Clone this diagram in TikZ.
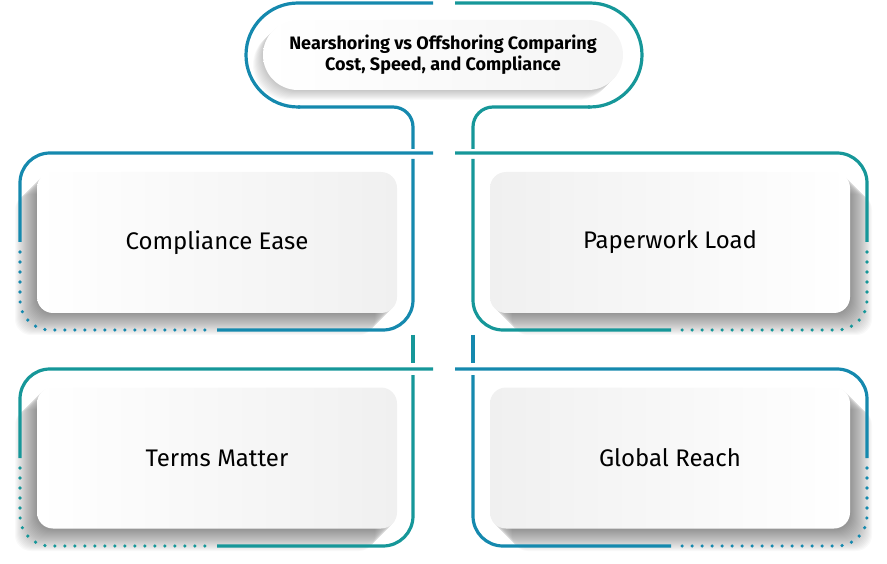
\documentclass[tikz,border=0pt]{standalone}
\usepackage{fontspec}
\setmainfont{Fira Sans}
\usetikzlibrary{positioning}
\definecolor{frameblue}{RGB}{21,137,174}
\definecolor{frameteal}{RGB}{22,151,153}
\definecolor{cardgray}{RGB}{240,240,240}
\tikzset{
    frame line/.style={line width=3.2pt, color=#1},
    frame dots/.style={line width=3.6pt, color=#1, line cap=round, dash pattern=on 0pt off 10pt},
    card/.style={rectangle, rounded corners=16pt, minimum width=360pt, minimum height=141pt,
        inner sep=0pt, text=black, font=\fontsize{24}{29}\selectfont},
    card left/.style={card, left color=white, right color=cardgray},
    card right/.style={card, left color=cardgray, right color=white},
    title pill/.style={card, minimum height=70pt, rounded corners=35pt, align=center,
        left color=white, right color=cardgray!70, font=\fontsize{18}{21}\selectfont\bfseries},
    long shadow/.style={fill=black, opacity=.024},
}

\begin{document}
\begin{tikzpicture}[x=1pt, y=-1pt]
    \useasboundingbox (0,0) rectangle (887,564);

    % shadows
    \foreach \k in {1,...,10}
        \fill[long shadow, rounded corners=35pt] (263-\k,20+\k) rectangle (623-\k,90+\k);
    \foreach \k in {1,...,22} {
        \fill[long shadow, rounded corners=16pt] (37-\k,172+\k) rectangle (397-\k,313+\k);
        \fill[long shadow, rounded corners=16pt] (490+\k,172+\k) rectangle (850+\k,313+\k);
        \fill[long shadow, rounded corners=16pt] (37-\k,387+\k) rectangle (397-\k,529+\k);
        \fill[long shadow, rounded corners=16pt] (490+\k,387+\k) rectangle (850+\k,529+\k);
    }

    % title outline
    \draw[frame line=frameblue, rounded corners=52pt] (433,3) -- (246,3) -- (246,107) -- (300,107);
    \draw[frame line=frameblue, rounded corners=20pt] (298,107) -- (413,107) -- (413,149);
    \draw[frame line=frameteal, rounded corners=52pt] (455,3) -- (642,3) -- (642,107) -- (588,107);
    \draw[frame line=frameteal, rounded corners=20pt] (590,107) -- (473,107) -- (473,149);

    % compliance ease
    \draw[frame line=frameblue, rounded corners=30pt] (20,242) -- (20,153) -- (433,153);
    \draw[frame dots=frameblue, rounded corners=30pt] (20,252) -- (20,330) -- (208,330);
    \draw[frame line=frameblue, rounded corners=30pt] (217,330) -- (413,330) -- (413,159);

    % paperwork load
    \draw[frame line=frameteal, rounded corners=30pt] (455,153) -- (867,153) -- (867,242);
    \draw[frame dots=frameteal, rounded corners=30pt] (867,252) -- (867,330) -- (680,330);
    \draw[frame line=frameteal, rounded corners=30pt] (671,330) -- (473,330) -- (473,159);

    % terms matter
    \draw[frame line=frameteal] (413,335) -- (413,363);
    \draw[frame line=frameteal, rounded corners=30pt] (20,458) -- (20,369) -- (433,369);
    \draw[frame dots=frameteal, rounded corners=30pt] (20,468) -- (20,546) -- (208,546);
    \draw[frame line=frameteal, rounded corners=30pt] (217,546) -- (413,546) -- (413,375);

    % global reach
    \draw[frame line=frameblue] (473,335) -- (473,363);
    \draw[frame line=frameblue, rounded corners=30pt] (455,369) -- (867,369) -- (867,458);
    \draw[frame dots=frameblue, rounded corners=30pt] (867,468) -- (867,546) -- (680,546);
    \draw[frame line=frameblue, rounded corners=30pt] (671,546) -- (473,546) -- (473,375);

    \node[title pill] (title) at (443,55) {Nearshoring vs Offshoring Comparing\\Cost, Speed, and Compliance};
    \node[card left] (ease) at (217,242.5) {Compliance Ease};
    \node[card right] (paper) at (670,242.5) {Paperwork Load};
    \node[card left] (terms) at (217,458) {Terms Matter};
    \node[card right] (reach) at (670,458) {Global Reach};
\end{tikzpicture}
\end{document}
